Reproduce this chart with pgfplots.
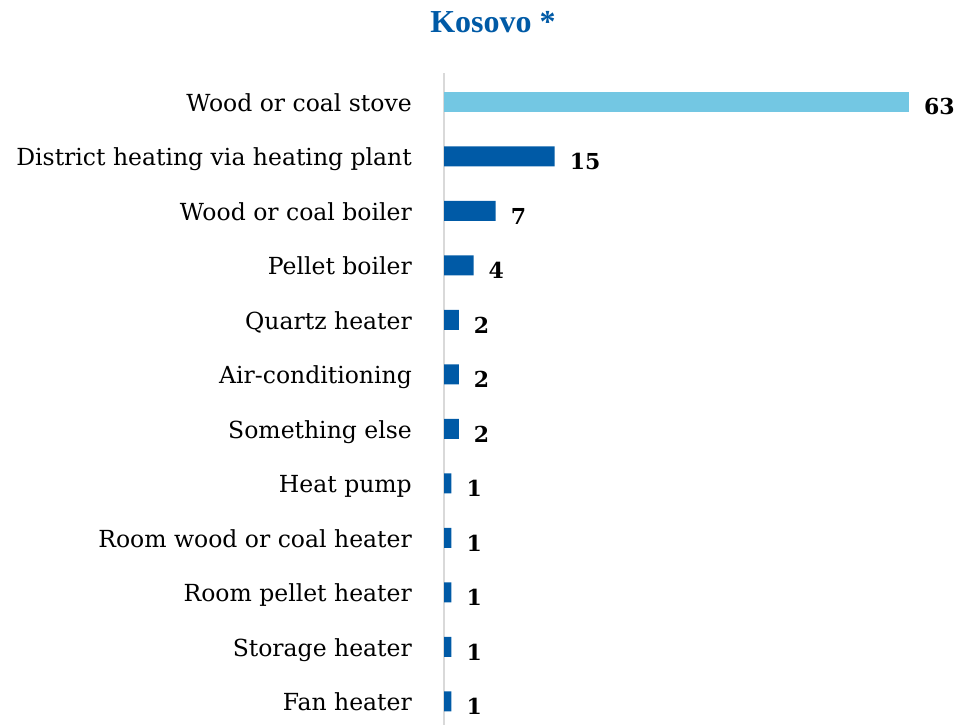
\documentclass[border=0pt]{standalone}
\usepackage{fontspec}
\setmainfont{DejaVu Serif}
\newfontfamily\titlefont{Liberation Serif}
\usepackage{pgfplots}
\pgfplotsset{compat=1.18}
\definecolor{darkblue}{HTML}{005AA6}
\definecolor{lightblue}{HTML}{73C7E3}
\begin{document}
\begin{tikzpicture}
\useasboundingbox (0,0) rectangle (961bp,725bp);
\node[font=\titlefont\bfseries\fontsize{32bp}{36bp}\selectfont, text=darkblue, anchor=base] at (493bp,692bp) {Kosovo *};
\begin{axis}[
  at={(444bp,0.1bp)}, anchor=south west,
  scale only axis, width=516.6bp, height=651.8bp,
  xbar, bar width=20bp, bar shift=0pt,
  xmin=0, xmax=70, ymin=-0.53, ymax=11.43,
  y dir=reverse,
  axis x line=none, axis y line=left,
  y axis line style={draw=black!15, line width=1.6bp, -},
  xtick=\empty,
  ytick={0,...,11},
  yticklabels={Wood or coal stove, District heating via heating plant, Wood or coal boiler, Pellet boiler, Quartz heater, Air-conditioning, Something else, Heat pump, Room wood or coal heater, Room pellet heater, Storage heater, Fan heater},
  major tick length=0pt,
  yticklabel style={font=\fontsize{23.5bp}{28bp}\selectfont, anchor=base east, inner sep=0pt, xshift=-32bp, yshift=-9.5bp},
  /pgf/number format/assume math mode=true,
  nodes near coords,
  nodes near coords style={font=\bfseries\fontsize{22bp}{24bp}\selectfont, anchor=west, inner sep=0pt, xshift=15bp, yshift=-5bp, text=black},
  clip=false,
]
\addplot[fill=lightblue, draw=none] coordinates {(63,0)};
\addplot[fill=darkblue, draw=none] coordinates {(15,1) (7,2) (4,3) (2,4) (2,5) (2,6) (1,7) (1,8) (1,9) (1,10) (1,11)};
\end{axis}
\end{tikzpicture}
\end{document}
